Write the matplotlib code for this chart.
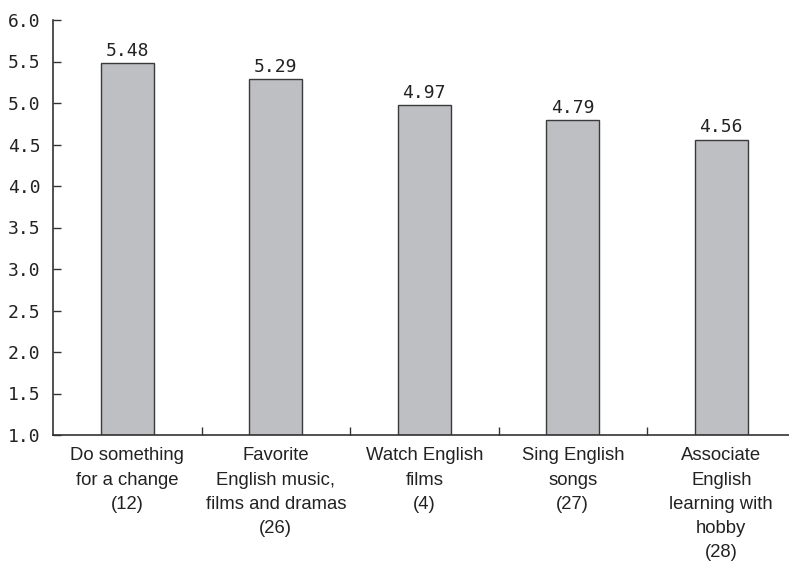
import matplotlib
matplotlib.use("Agg")
import matplotlib.pyplot as plt
from matplotlib.ticker import FixedLocator, NullFormatter

categories = [
    "Do something\nfor a change\n(12)",
    "Favorite\nEnglish music,\nfilms and dramas\n(26)",
    "Watch English\nfilms\n(4)",
    "Sing English\nsongs\n(27)",
    "Associate\nEnglish\nlearning with\nhobby\n(28)",
]
values = [5.48, 5.29, 4.97, 4.79, 4.56]
value_labels = ["5.48", "5.29", "4.97", "4.79", "4.56"]
yticks = [1.0, 1.5, 2.0, 2.5, 3.0, 3.5, 4.0, 4.5, 5.0, 5.5, 6.0]

W, H = 789, 561
fig = plt.figure(figsize=(W / 100, H / 100), dpi=100)
left = 53 / W
bottom = (H - 435) / H
top = (H - 20) / H
width = (795.5 - 53) / W
ax = fig.add_axes([left, bottom, width, top - bottom])

x = list(range(len(values)))
ax.bar(x, [v - 1.0 for v in values], bottom=1.0, width=0.36,
       color="#bebfc3", edgecolor="#3a3a3a", linewidth=1.0, zorder=2)

for xi, v, lab in zip(x, values, value_labels):
    ax.text(xi, v + 0.04, lab, ha="center", va="bottom",
            fontsize=13, family="DejaVu Sans Mono", color="#222222")

ax.set_xlim(-0.5, 4.5)
ax.set_ylim(1.0, 6.0)
ax.set_yticks(yticks)
ax.set_yticklabels([f"{t:.1f}" for t in yticks],
                   family="DejaVu Sans Mono", fontsize=13, color="#222222")

ax.xaxis.set_major_locator(FixedLocator([0.5, 1.5, 2.5, 3.5]))
ax.xaxis.set_major_formatter(NullFormatter())
ax.xaxis.set_minor_locator(FixedLocator(x))
ax.set_xticklabels(categories, minor=True, family="Liberation Sans",
                   fontsize=13.3, color="#222222", linespacing=1.55)
ax.tick_params(axis="x", which="minor", length=0, pad=9)
ax.tick_params(axis="x", which="major", direction="in", length=6, width=1, color="#333333")
ax.tick_params(axis="y", direction="in", length=6, width=1, pad=9, color="#333333")

for s in ["top", "right"]:
    ax.spines[s].set_visible(False)
for s in ["left", "bottom"]:
    ax.spines[s].set_color("#333333")
    ax.spines[s].set_linewidth(1.2)

fig.savefig("out.png", dpi=100)
